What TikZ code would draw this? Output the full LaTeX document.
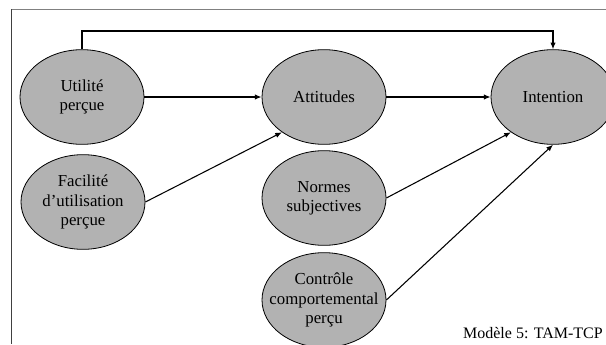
\documentclass[tikz,border=0pt]{standalone}
\usepackage{fontspec}
\setmainfont{Liberation Serif}
\usetikzlibrary{arrows.meta,shapes.geometric,positioning}

\tikzset{
  construct/.style={ellipse,draw=black,line width=0.6pt,fill=gray!60,
    minimum width=93pt,minimum height=71pt,inner xsep=-9pt,inner ysep=0pt,
    align=center,font=\fontsize{12.6}{14.3}\selectfont},
  arr/.style={-{Latex[length=5pt,width=4pt]},line width=0.8pt}
}

\begin{document}
\begin{tikzpicture}[x=0.75pt,y=0.75pt]
  \useasboundingbox (0,0) rectangle (606,344);

  % frame (only the top and left sides show)
  \draw[line width=1.2pt,gray] (11,334.5) -- (606,334.5);
  \draw[line width=1.2pt,black!75] (11.5,335) -- (11.5,0);

  % constructs
  \node[construct] (util)   at (82,247)  {Utilité\\perçue};
  \node[construct] (facil)  at (83,142)  {Facilité\\d’utilisation\\perçue};
  \node[construct] (att)    at (324,247) {Attitudes};
  \node[construct] (norm)   at (324,146) {Normes\\subjectives};
  \node[construct] (ctrl)   at (324,44)  {Contrôle\\comportemental\\perçu};
  \node[construct] (intent) at (553,247) {Intention};

  % links
  \coordinate (bar) at (0,313);
  \draw[arr] (util.north) |- (bar -| intent.north) -- (intent.north);
  \draw[arr] (util) -- (att);
  \draw[arr] (facil.east) -- (att.220);
  \draw[arr] (att) -- (intent);
  \draw[arr] (norm.east) -- (intent.220);
  \draw[arr] (ctrl.east) -- (intent.south);

  % caption
  \node[anchor=base east,inner sep=0pt,font=\fontsize{12}{14}\selectfont]
    (caption) at (603,6) {Modèle 5: TAM-TCP};
\end{tikzpicture}
\end{document}
